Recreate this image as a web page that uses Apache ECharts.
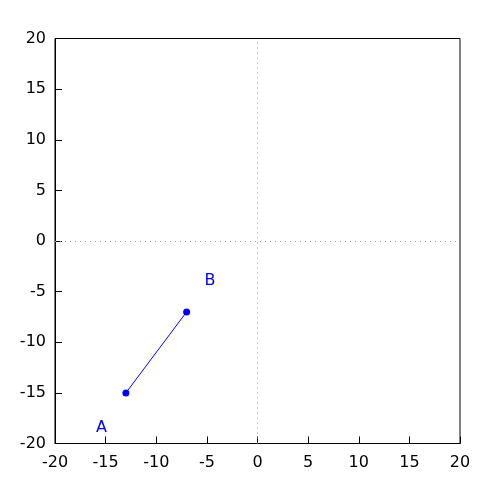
<!DOCTYPE html>
<html><head><meta charset="utf-8">
<script src="https://cdn.jsdelivr.net/npm/echarts@6/dist/echarts.min.js"></script>
<style>html,body{margin:0;padding:0;background:#fff}#c{width:500px;height:500px}</style>
</head><body><div id="c"></div>
<script>
const xTicks = [-20,-15,-10,-5,0,5,10,15,20];
const yTicks = [-20,-15,-10,-5,0,5,10,15,20];
const linePoints = [[-13,-15],[-7,-7]];
const labelNames = ['A','B'];
const labelPositions = [[-15.4,-18.45],[-4.7,-3.9]];

const font = 'DejaVu Sans';
const chart = echarts.init(document.getElementById('c'), null, {renderer:'canvas'});
const axisCommon = {
  min: -20, max: 20, interval: 5,
  axisLine: {onZero:false, lineStyle:{color:'#000', width:1}},
  axisTick: {inside:true, length:7, lineStyle:{color:'#000'}},
  splitLine: {show:false},
  axisLabel: {color:'#000', fontSize:16, fontFamily:font}
};
chart.setOption({
  animation:false,
  grid:{left:55, top:38.5, width:405, height:405, show:true, borderColor:'#000', borderWidth:1, backgroundColor:'transparent'},
  xAxis: Object.assign({type:'value'}, axisCommon, {axisLabel:Object.assign({}, axisCommon.axisLabel, {margin:11})}),
  yAxis: Object.assign({type:'value'}, axisCommon, {axisLabel:Object.assign({}, axisCommon.axisLabel, {margin:9})}),
  series:[
    {type:'line', data:linePoints, symbol:'circle', symbolSize:7,
     lineStyle:{color:'#0000ff', width:1}, itemStyle:{color:'#0000ff'},
     markLine:{silent:true, symbol:'none', label:{show:false},
       lineStyle:{color:'#999', type:[1,4], width:1},
       data:[{xAxis:0},{yAxis:0}]}},
    {type:'scatter', symbolSize:0, itemStyle:{opacity:1},
     data: labelPositions.map((p,i)=>({value:p, name:labelNames[i]})),
     label:{show:true, position:'inside', formatter:'{b}', color:'#0000ff', opacity:1, fontSize:16, fontFamily:font}}
  ]
});
</script></body></html>
